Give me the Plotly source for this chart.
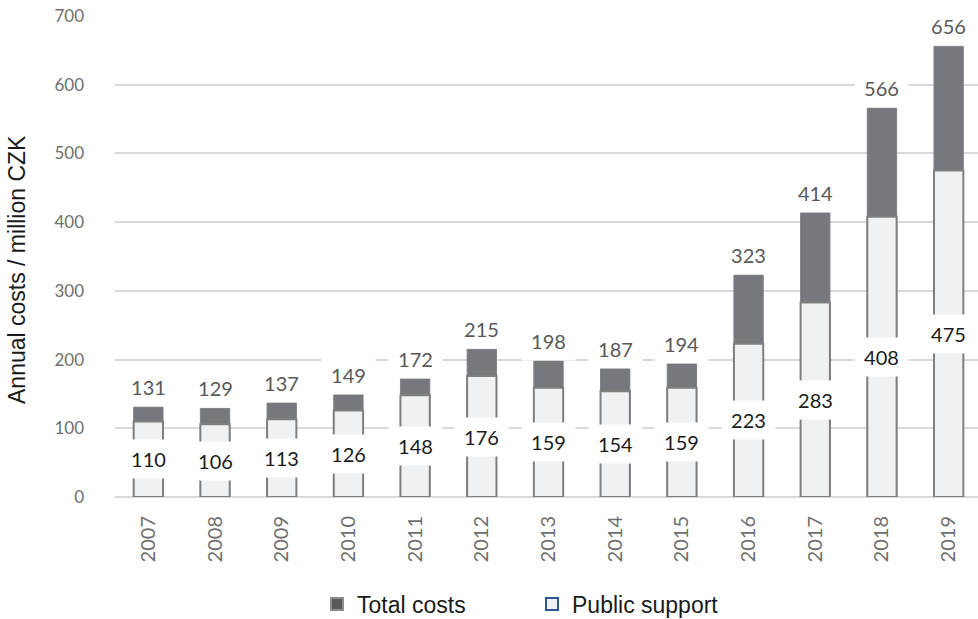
import plotly.graph_objects as go

years = ["2007", "2008", "2009", "2010", "2011", "2012", "2013",
         "2014", "2015", "2016", "2017", "2018", "2019"]
total_costs = [131, 129, 137, 149, 172, 215, 198, 187, 194, 323, 414, 566, 656]
public_support = [110, 106, 113, 126, 148, 176, 159, 154, 159, 223, 283, 408, 475]
y_ticks = [0, 100, 200, 300, 400, 500, 600, 700]

W, H = 978, 619
ML, MR, MT, MB = 115, 0, 16, 122

LABEL_FONT = "Lato"
TOTAL_FILL = "#77787B"
PUB_FILL = "#F0F1F3"
PUB_LINE = "#7F7F7F"

fig = go.Figure()

fig.add_trace(go.Bar(
    x=years, y=total_costs, name="Total costs", width=0.44,
    marker=dict(color=TOTAL_FILL, line=dict(color="#808185", width=1)),
    showlegend=False, hoverinfo="x+y",
))
fig.add_trace(go.Bar(
    x=years, y=public_support, name="Public support", width=0.44,
    marker=dict(color=PUB_FILL, line=dict(color=PUB_LINE, width=2)),
    showlegend=False, hoverinfo="x+y",
))

# legend-only entries
fig.add_trace(go.Scatter(
    x=[None], y=[None], mode="markers", name="Total costs",
    marker=dict(symbol="square", size=16, color="#595959",
                line=dict(color="#8C8C8C", width=2)),
))
fig.add_trace(go.Scatter(
    x=[None], y=[None], mode="markers", name="Public support",
    marker=dict(symbol="square", size=16, color=PUB_FILL,
                line=dict(color="#2F5597", width=2)),
))

annotations = []
for i, (t, p) in enumerate(zip(total_costs, public_support)):
    annotations.append(dict(
        x=i, y=t, xref="x", yref="y", text=str(t), showarrow=False,
        yanchor="bottom", xanchor="center", yshift=0,
        font=dict(family=LABEL_FONT, size=20, color="#595959"),
        bgcolor="white", width=49, height=34, borderpad=2,
    ))
    annotations.append(dict(
        x=i, y=p / 2, xref="x", yref="y", text=str(p), showarrow=False,
        yanchor="middle", xanchor="center",
        font=dict(family=LABEL_FONT, size=20, color="#1A1A1A"),
        bgcolor="white", width=49, height=34, borderpad=2,
    ))

annotations.append(dict(
    text="Annual costs / million CZK", textangle=-90,
    xref="paper", yref="paper", x=(17 - ML) / (W - ML - MR),
    y=(497 - 270) / (497 - 16), xanchor="center", yanchor="middle",
    showarrow=False,
    font=dict(family="Liberation Sans, Arial", size=23, color="#1A1A1A"),
))

fig.update_layout(
    width=W, height=H,
    margin=dict(l=ML, r=MR, t=MT, b=MB, pad=0),
    paper_bgcolor="white", plot_bgcolor="white",
    barmode="overlay",
    annotations=annotations,
    showlegend=True,
    legend=dict(
        orientation="h", xref="container", yref="container",
        x=317 / W, xanchor="left", y=1 - 604 / H, yanchor="middle",
        font=dict(family="Liberation Sans, Arial", size=23, color="#1A1A1A"),
        entrywidth=170, entrywidthmode="pixels", itemsizing="constant",
        bgcolor="rgba(0,0,0,0)",
    ),
    xaxis=dict(
        type="category", categoryorder="array", categoryarray=years,
        range=[-0.5, 12.44], tickangle=-90,
        tickfont=dict(family=LABEL_FONT, size=20, color="#6F6F6F"),
        showgrid=False, showline=False, zeroline=False, ticks="",
        ticklabelstandoff=14,
    ),
    yaxis=dict(
        range=[0, 700], tickvals=y_ticks, ticktext=[str(v) for v in y_ticks],
        tickfont=dict(family=LABEL_FONT, size=17, color="#6F6F6F"),
        showgrid=True, gridcolor="#D9D9D9", gridwidth=1.5,
        zeroline=True, zerolinecolor="#D9D9D9", zerolinewidth=1.5,
        showline=False, ticks="", ticklabelstandoff=30,
    ),
)

fig.write_html("out.html")
